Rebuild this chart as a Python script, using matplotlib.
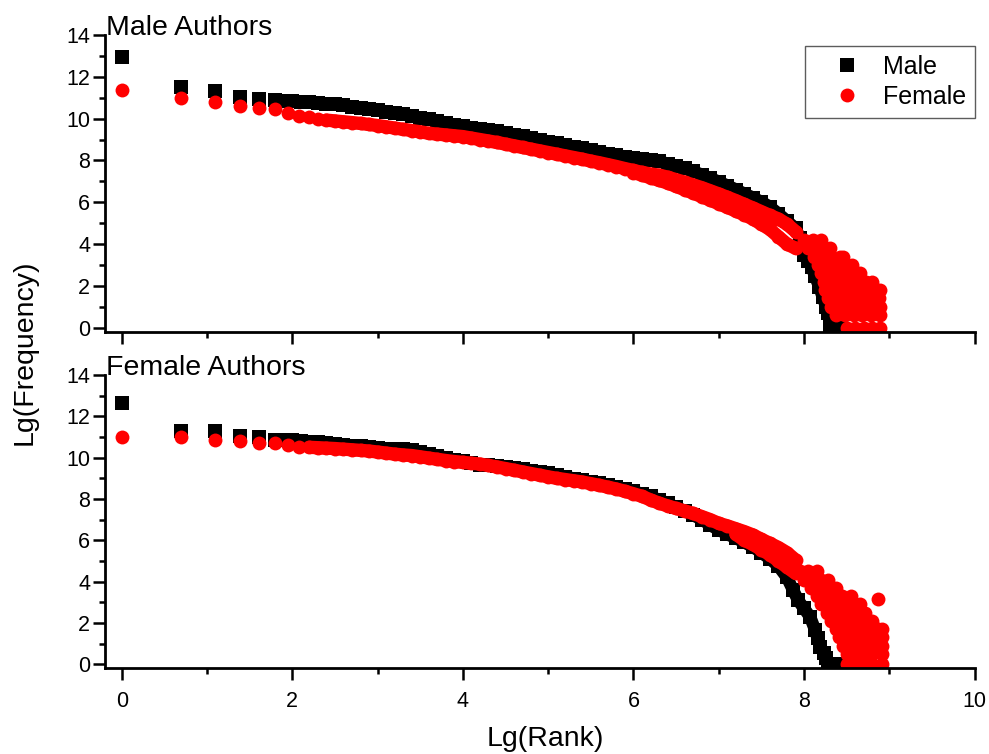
import matplotlib
matplotlib.use('Agg')
import matplotlib.pyplot as plt
from matplotlib.ticker import MultipleLocator

plt.rcParams['font.family'] = ['Liberation Sans', 'DejaVu Sans']

# ---- Male Authors panel (ranked by male frequency) ----
top_male_x = [0, 0.693, 1.099, 1.386, 1.609, 1.792,
              1.9, 2.0, 2.1, 2.2, 2.3, 2.4, 2.5, 2.6, 2.7, 2.8, 2.9, 3.0, 3.1, 3.2, 3.3, 3.4, 3.5,
              3.6, 3.7, 3.8, 3.9, 4.0, 4.1, 4.2, 4.3, 4.4, 4.5, 4.6, 4.7, 4.8, 4.9, 5.0, 5.1, 5.2,
              5.3, 5.4, 5.5, 5.6, 5.7, 5.8, 5.9, 6.0, 6.1, 6.2, 6.3, 6.4, 6.5, 6.6, 6.7, 6.8, 6.9,
              7.0, 7.1, 7.2, 7.3, 7.4, 7.5, 7.6, 7.7, 7.8, 7.9, 7.95, 7.97, 8.0, 8.05, 8.09, 8.13,
              8.18, 8.22, 8.26, 8.28, 8.30, 8.30, 8.36, 8.42]
top_male_y = [12.97, 11.5, 11.3, 11.02, 10.93, 10.9,
              10.86, 10.84, 10.81, 10.78, 10.75, 10.72, 10.68, 10.63, 10.57, 10.52, 10.46, 10.40,
              10.33, 10.27, 10.20, 10.12, 10.04, 9.96, 9.88, 9.80, 9.71, 9.63, 9.57, 9.51, 9.45,
              9.39, 9.31, 9.23, 9.15, 9.07, 8.99, 8.90, 8.82, 8.74, 8.66, 8.58, 8.49, 8.41, 8.33,
              8.26, 8.18, 8.11, 8.06, 8.02, 7.95, 7.85, 7.74, 7.62, 7.48, 7.32, 7.16, 6.98, 6.80,
              6.61, 6.41, 6.22, 6.02, 5.78, 5.45, 5.1, 4.75, 4.3, 3.9, 3.5, 3.2, 2.9, 2.45, 1.95,
              1.45, 0.99, 0.69, 0.37, 0, 0, 0]

top_female_x = [0, 0.693, 1.099, 1.386, 1.609, 1.792, 1.946, 2.079, 2.197, 2.303,
                2.4, 2.5, 2.6, 2.7, 2.8, 2.9, 3.0, 3.1, 3.2, 3.3, 3.4, 3.5, 3.6, 3.7, 3.8, 3.9,
                4.0, 4.1, 4.2, 4.3, 4.4, 4.5, 4.6, 4.7, 4.8, 4.9, 5.0, 5.1, 5.2, 5.3, 5.4, 5.5,
                5.6, 5.7, 5.8, 5.9, 6.0, 6.1, 6.2, 6.3, 6.4, 6.5, 6.6, 6.7, 6.8, 6.9, 7.0, 7.1,
                7.2, 7.3, 7.4, 7.5, 7.6, 7.7, 7.8, 7.9]
top_female_y = [11.38, 10.98, 10.81, 10.61, 10.53, 10.45, 10.29, 10.13, 10.1, 10.0,
                9.93, 9.89, 9.85, 9.81, 9.77, 9.72, 9.67, 9.61, 9.55, 9.49, 9.43, 9.37, 9.30,
                9.26, 9.22, 9.18, 9.14, 9.07, 9.00, 8.93, 8.86, 8.78, 8.70, 8.62, 8.54, 8.46,
                8.38, 8.30, 8.22, 8.14, 8.06, 7.97, 7.89, 7.80, 7.71, 7.61, 7.52, 7.43, 7.35,
                7.3, 7.2, 7.08, 6.96, 6.83, 6.70, 6.55, 6.40, 6.24, 6.08, 5.9, 5.73, 5.55, 5.37,
                5.2, 4.95, 4.6]
# lower edge of the red scatter band
top_female_low_x = [6.0, 6.1, 6.2, 6.3, 6.4, 6.5, 6.6, 6.7, 6.8, 6.9, 7.0, 7.1, 7.2, 7.3,
                    7.4, 7.5, 7.6, 7.7, 7.8, 7.9]
top_female_low_y = [7.42, 7.3, 7.17, 7.05, 6.92, 6.76, 6.6, 6.44, 6.27, 6.1, 5.93, 5.76,
                    5.58, 5.4, 5.2, 4.95, 4.7, 4.35, 4.0, 3.8]
# tail cloud: one row of points per frequency level
top_tail_levels = [4.2, 3.8, 3.4, 3.0, 2.6, 2.2, 1.8, 1.4, 1.0, 0.6, 0]
top_tail_x = [
    [8.0, 8.1, 8.2],
    [8.05, 8.15, 8.25, 8.3],
    [8.12, 8.22, 8.32, 8.42, 8.46],
    [8.16, 8.26, 8.36, 8.46, 8.56],
    [8.2, 8.3, 8.4, 8.5, 8.6, 8.66],
    [8.23, 8.33, 8.43, 8.53, 8.63, 8.73, 8.8],
    [8.25, 8.35, 8.45, 8.55, 8.65, 8.75, 8.85, 8.89],
    [8.28, 8.38, 8.48, 8.58, 8.68, 8.78, 8.88],
    [8.31, 8.41, 8.51, 8.61, 8.71, 8.81, 8.89],
    [8.38, 8.48, 8.58, 8.68, 8.78, 8.89],
    [8.5, 8.6, 8.7, 8.8, 8.89],
]

# ---- Female Authors panel (ranked by female frequency) ----
bot_male_x = [0, 0.693, 1.099, 1.386, 1.609, 1.792,
              1.9, 2.0, 2.1, 2.2, 2.3, 2.4, 2.5, 2.6, 2.7, 2.8, 2.9, 3.0, 3.1, 3.2, 3.3, 3.4, 3.5,
              3.6, 3.7, 3.8, 3.9, 4.0, 4.1, 4.2, 4.3, 4.4, 4.5, 4.6, 4.7, 4.8, 4.9, 5.0, 5.1, 5.2,
              5.3, 5.4, 5.5, 5.6, 5.7, 5.8, 5.9, 6.0, 6.1, 6.2, 6.3, 6.4, 6.5, 6.6, 6.7, 6.8, 6.9,
              7.0, 7.1, 7.2, 7.3, 7.4, 7.5, 7.6, 7.7, 7.8, 7.87, 7.93, 8.0, 8.07, 8.13, 8.16,
              8.19, 8.23, 8.26, 8.28, 8.34, 8.4]
bot_male_y = [12.66, 11.27, 11.27, 11.03, 10.99, 10.87,
              10.86, 10.84, 10.81, 10.78, 10.74, 10.70, 10.66, 10.62, 10.58, 10.54, 10.50, 10.47,
              10.44, 10.42, 10.40, 10.38, 10.28, 10.18, 10.10, 10.0, 9.9, 9.82, 9.74, 9.66, 9.62,
              9.58, 9.53, 9.48, 9.43, 9.37, 9.30, 9.24, 9.16, 9.08, 8.99, 8.91, 8.83, 8.75, 8.66,
              8.58, 8.47, 8.37, 8.25, 8.12, 7.96, 7.8, 7.6, 7.42, 7.22, 7.0, 6.74, 6.5, 6.3, 6.1,
              5.9, 5.68, 5.4, 5.1, 4.75, 4.2, 3.6, 3.1, 2.7, 2.3, 1.66, 1.25, 0.85, 0.55, 0.29,
              0, 0, 0]

bot_female_x = [0, 0.693, 1.099, 1.386, 1.609, 1.792, 1.946, 2.079,
                2.2, 2.3, 2.4, 2.5, 2.6, 2.7, 2.8, 2.9, 3.0, 3.1, 3.2, 3.3, 3.4, 3.5, 3.6, 3.7,
                3.8, 3.9, 4.0, 4.1, 4.2, 4.3, 4.4, 4.5, 4.6, 4.7, 4.8, 4.9, 5.0, 5.1, 5.2, 5.3,
                5.4, 5.5, 5.6, 5.7, 5.8, 5.9, 6.0, 6.1, 6.2, 6.3, 6.4, 6.5, 6.6, 6.7, 6.8, 6.9,
                7.0, 7.1, 7.2, 7.3, 7.4, 7.5, 7.6, 7.7, 7.8, 7.9]
bot_female_y = [11.02, 10.99, 10.86, 10.82, 10.7, 10.7, 10.61, 10.53,
                10.5, 10.48, 10.46, 10.44, 10.41, 10.38, 10.35, 10.32, 10.27, 10.22, 10.17,
                10.13, 10.10, 10.04, 9.98, 9.92, 9.86, 9.81, 9.77, 9.73, 9.69, 9.62, 9.55, 9.47,
                9.39, 9.31, 9.23, 9.15, 9.07, 9.0, 8.94, 8.88, 8.82, 8.74, 8.66, 8.57, 8.48,
                8.37, 8.25, 8.13, 7.95, 7.8, 7.66, 7.54, 7.42, 7.3, 7.15, 7.0, 6.82, 6.7, 6.56,
                6.42, 6.26, 6.05, 5.85, 5.65, 5.4, 5.05]
bot_female_low_x = [7.2, 7.3, 7.4, 7.5, 7.6, 7.7, 7.8, 7.9]
bot_female_low_y = [6.3, 6.0, 5.8, 5.55, 5.3, 5.0, 4.7, 4.4]
bot_tail_levels = [4.5, 4.1, 3.7, 3.3, 2.9, 2.5, 2.1, 1.7, 1.3, 0.9, 0.5, 0]
bot_tail_x = [
    [7.95, 8.05, 8.15],
    [8.0, 8.1, 8.2, 8.28],
    [8.08, 8.18, 8.28, 8.38],
    [8.15, 8.25, 8.35, 8.45, 8.55],
    [8.2, 8.3, 8.4, 8.5, 8.6, 8.66],
    [8.27, 8.37, 8.47, 8.57, 8.67, 8.72],
    [8.32, 8.42, 8.52, 8.62, 8.72, 8.8],
    [8.37, 8.47, 8.57, 8.67, 8.77, 8.87, 8.91],
    [8.41, 8.51, 8.61, 8.71, 8.81, 8.91],
    [8.46, 8.56, 8.66, 8.76, 8.86, 8.91],
    [8.5, 8.6, 8.7, 8.8, 8.91],
    [8.5, 8.6, 8.7, 8.8, 8.91],
]
bot_outlier_x = [8.87]
bot_outlier_y = [3.15]

# first index where the points merge into a continuous band
top_male_dense, top_female_dense = 6, 10
bot_male_dense, bot_female_dense = 6, 8


def flatten_tail(levels, cols):
    xs, ys = [], []
    for lev, row in zip(levels, cols):
        xs += row
        ys += [lev] * len(row)
    return xs, ys


fig = plt.figure(figsize=(9.89, 7.54), dpi=100)
ax1 = fig.add_axes([0.1058, 0.5598, 0.8797, 0.3938])
ax2 = fig.add_axes([0.1058, 0.1135, 0.8797, 0.3892])

sq = dict(marker='s', ls='none', color='black', ms=9.4, mew=0)
ci = dict(marker='o', ls='none', color='red', ms=10, mew=0)
sq_band = dict(color='black', lw=9.0, solid_capstyle='butt', solid_joinstyle='round')
ci_band = dict(color='red', lw=9.6, solid_capstyle='round', solid_joinstyle='round')


def draw(ax, mx, my, md, fx, fy, fd, lx, ly, tails, label=True):
    ax.plot(mx[md:], my[md:], **sq_band)
    ax.plot(mx, my, label='Male' if label else None, **sq)
    ax.plot(fx[fd:], fy[fd:], **ci_band)
    ax.plot(lx, ly, **ci_band)
    ax.plot(fx, fy, label='Female' if label else None, **ci)
    ax.plot(lx, ly, **ci)
    ax.plot(tails[0], tails[1], **ci)


draw(ax1, top_male_x, top_male_y, top_male_dense, top_female_x, top_female_y,
     top_female_dense, top_female_low_x, top_female_low_y,
     flatten_tail(top_tail_levels, top_tail_x))
draw(ax2, bot_male_x, bot_male_y, bot_male_dense, bot_female_x, bot_female_y,
     bot_female_dense, bot_female_low_x, bot_female_low_y,
     flatten_tail(bot_tail_levels, bot_tail_x), label=False)
ax2.plot(bot_outlier_x, bot_outlier_y, **ci)

for ax, title in [(ax1, 'Male Authors'), (ax2, 'Female Authors')]:
    ax.set_xlim(-0.2, 10)
    ax.set_ylim(-0.2, 14)
    ax.spines['top'].set_visible(False)
    ax.spines['right'].set_visible(False)
    ax.spines['left'].set_linewidth(2)
    ax.spines['bottom'].set_linewidth(2)
    ax.xaxis.set_major_locator(MultipleLocator(2))
    ax.xaxis.set_minor_locator(MultipleLocator(1))
    ax.yaxis.set_major_locator(MultipleLocator(2))
    ax.yaxis.set_minor_locator(MultipleLocator(1))
    ax.tick_params(which='major', direction='out', length=8.5, width=1.8,
                   labelsize=15.5, pad=2)
    ax.tick_params(which='minor', direction='out', length=4.5, width=1.8)
    ax.text(0.002, 1.0, title, transform=ax.transAxes, fontsize=20.5,
            ha='left', va='baseline')

ax1.tick_params(axis='x', labelbottom=False)
ax2.tick_params(axis='x', pad=8)

fig.text(0.025, 0.533, 'Lg(Frequency)', rotation=90, fontsize=20.5,
         ha='center', va='center')
fig.text(0.551, 0.02, 'Lg(Rank)', fontsize=20.5, ha='center', va='center')

leg = ax1.legend(loc='upper right', bbox_to_anchor=(1.0, 0.963), fontsize=18,
                 frameon=True, fancybox=False, borderaxespad=0, handlelength=2.6,
                 handletextpad=0.15, borderpad=0.35, labelspacing=0.25)
leg.get_frame().set_edgecolor('#333333')
leg.get_frame().set_linewidth(1.0)

fig.savefig('out.png', dpi=100)
